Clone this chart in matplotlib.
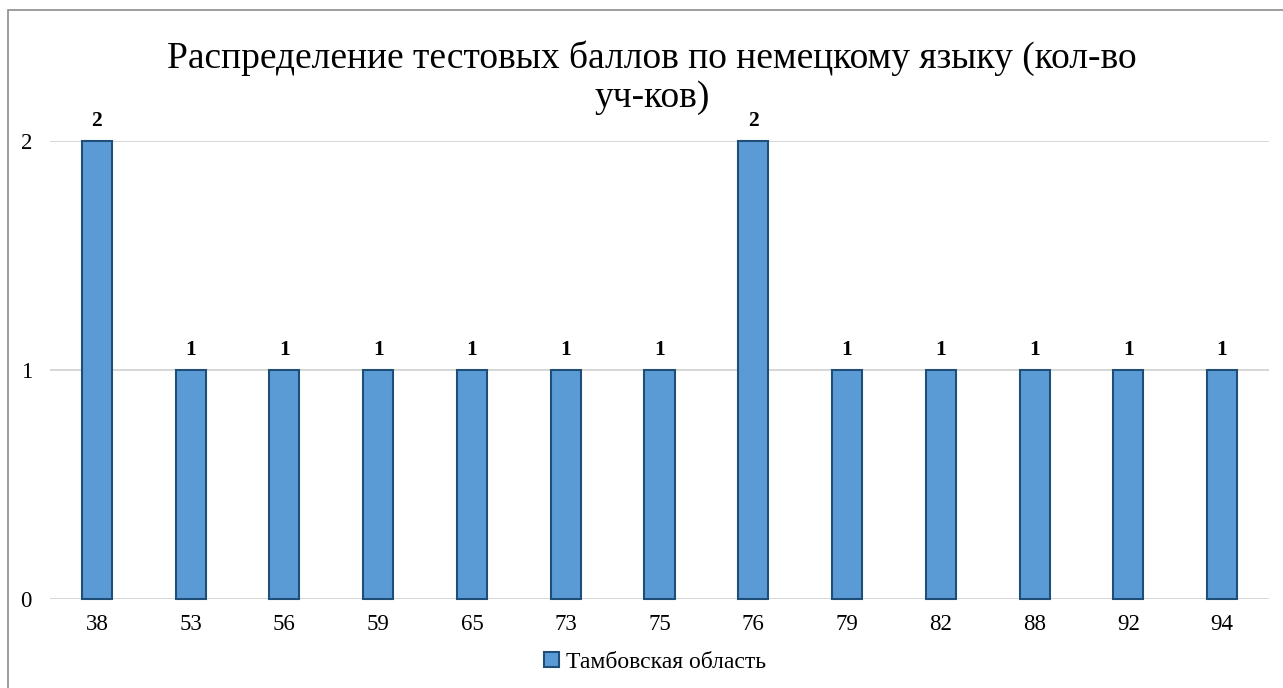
import matplotlib.pyplot as plt
import matplotlib.patches as mpatches
import numpy as np

# Данные
баллы = ['38', '53', '56', '59', '65', '73', '75', '76', '79', '82', '88', '92', '94']
кол_во = [2, 1, 1, 1, 1, 1, 1, 2, 1, 1, 1, 1, 1]

plt.rcParams['font.family'] = ['Liberation Serif', 'DejaVu Serif']

W, H = 1283, 688
fig = plt.figure(figsize=(W / 100, H / 100), dpi=100)

# рамка диаграммы
fig.patches.append(mpatches.Rectangle((8 / W, -0.1), 2, 1 - 10 / H + 0.1,
                                      transform=fig.transFigure, fill=False,
                                      edgecolor='#8c8c8c', linewidth=1.2))

ax = fig.add_axes([50 / W, (H - 599) / H, (1269 - 50) / W, (599 - 141) / H])

x = np.arange(len(баллы))
bars = ax.bar(x, кол_во, width=0.32, color='#5b9bd5', edgecolor='#1f4e79',
              linewidth=1.5, label='Тамбовская область', zorder=3)

for xi, v in zip(x, кол_во):
    ax.text(xi, v + 0.045, str(v), ha='center', va='bottom',
            fontsize=15.5, fontweight='bold')

ax.set_xlim(-0.5, len(баллы) - 0.5)
ax.set_ylim(0, 2)
ax.set_yticks([0, 1, 2])
ax.set_xticks(x)
ax.set_xticklabels(баллы)
ax.tick_params(length=0, labelsize=16.5)
ax.tick_params(axis='x', pad=11)
ax.tick_params(axis='y', pad=13)
ax.yaxis.grid(True, color='#d0d0d0', linewidth=1.2, zorder=0)
for s in ax.spines.values():
    s.set_visible(False)
for b in bars:
    b.set_clip_on(False)

# заголовок в две строки
fig.text(652 / W, 1 - 58 / H, 'Распределение тестовых баллов по немецкому языку (кол-во',
         ha='center', va='center', fontsize=27)
fig.text(652 / W, 1 - 98 / H, 'уч-ков)', ha='center', va='center', fontsize=27)

fig.legend(handles=[bars], labels=['Тамбовская область'], loc='center',
           bbox_to_anchor=(655 / W, 1 - 662 / H), frameon=False, fontsize=17,
           handlelength=0.6, handleheight=0.6, handletextpad=0.3)

fig.savefig('out.png', dpi=100)
